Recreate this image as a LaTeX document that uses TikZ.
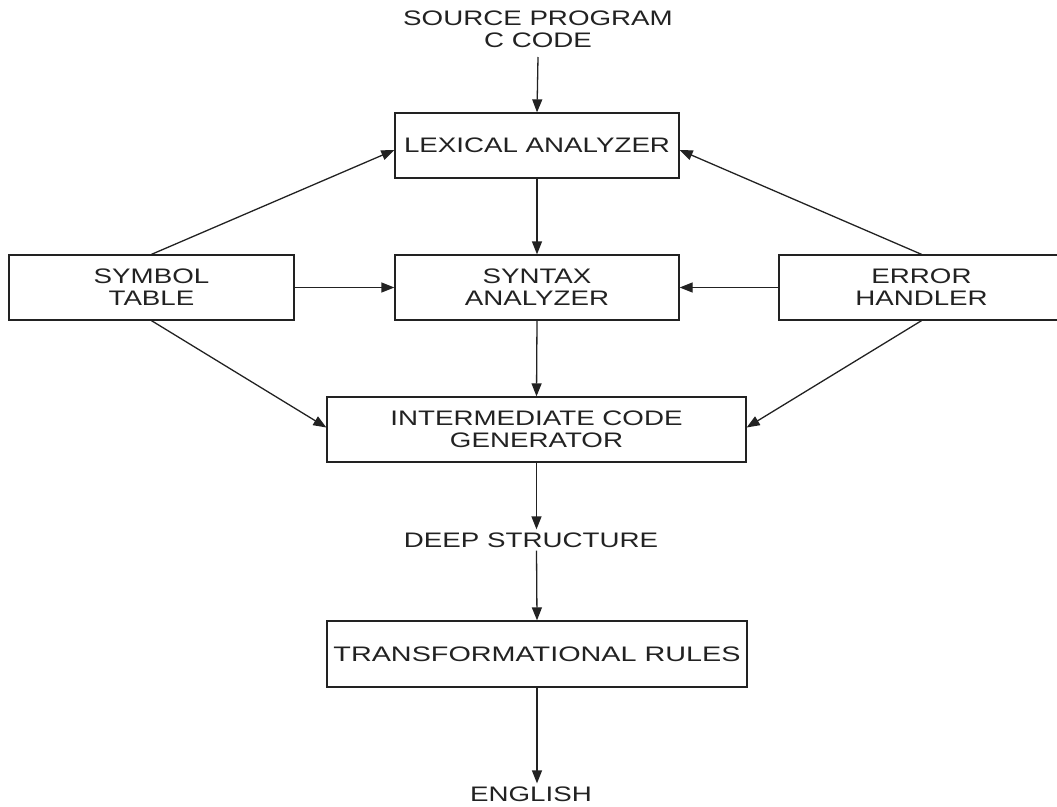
\documentclass[tikz,border=0pt]{standalone}
\usepackage{fontspec}
\setmainfont{Liberation Sans}[FakeStretch=1.32]
\newfontfamily\widefont{Liberation Sans}[FakeStretch=1.37]
\usetikzlibrary{arrows.meta}
\definecolor{ink}{HTML}{222222}
\tikzset{
  box/.style={draw=ink, line width=1.3pt, minimum height=65pt, inner sep=0pt,
    align=center, text=ink, font=\fontsize{21}{22}\selectfont},
  lbl/.style={align=center, text=ink, font=\fontsize{21}{22}\selectfont, inner sep=3pt},
  conn/.style={draw=ink, line width=1.3pt, -{Triangle[length=13pt,width=10pt]}},
}
\begin{document}
\begin{tikzpicture}[x=1pt,y=-1pt]
\useasboundingbox (0,0) rectangle (1057,806);
\node[lbl] (src) at (538,29) {SOURCE PROGRAM\\C CODE};
\node[box, minimum width=284pt] (lex) at (537,145.5) {LEXICAL ANALYZER};
\node[box, minimum width=285pt] (sym) at (151.5,287.5) {SYMBOL\\TABLE};
\node[box, minimum width=284pt] (syn) at (537,287.5) {SYNTAX\\ANALYZER};
\node[box, minimum width=285pt] (err) at (921.5,287.5) {ERROR\\HANDLER};
\node[box, minimum width=419pt] (inter) at (536.5,429.5) {INTERMEDIATE CODE\\GENERATOR};
\node[lbl] (deep) at (531,540) {DEEP STRUCTURE};
\node[box, minimum width=420pt, minimum height=66pt, font=\fontsize{21}{22}\widefont] (trans) at (537,654) {TRANSFORMATIONAL RULES};
\node[lbl] (eng) at (531,794) {ENGLISH};
\coordinate (srcend) at (538,57);
\draw[conn] (srcend) -- (lex.north);
\draw[conn] (lex.south) -- (syn.north);
\draw[conn] (syn.south) -- (inter.north);
\draw[conn] (sym.east) -- (syn.west);
\draw[conn] (err.west) -- (syn.east);
\draw[conn] (sym.north) -- ([yshift=-4.5pt]lex.west);
\draw[conn] (err.north) -- ([yshift=-4.5pt]lex.east);
\draw[conn] (sym.south) -- ([yshift=2pt]inter.west);
\draw[conn] (err.south) -- ([yshift=2pt]inter.east);
\draw[conn] (inter.south) -- (inter.south |- deep.north);
\draw[conn] (inter.south |- deep.south) -- (trans.north);
\draw[conn] (trans.south) -- (trans.south |- eng.north);
\end{tikzpicture}
\end{document}
